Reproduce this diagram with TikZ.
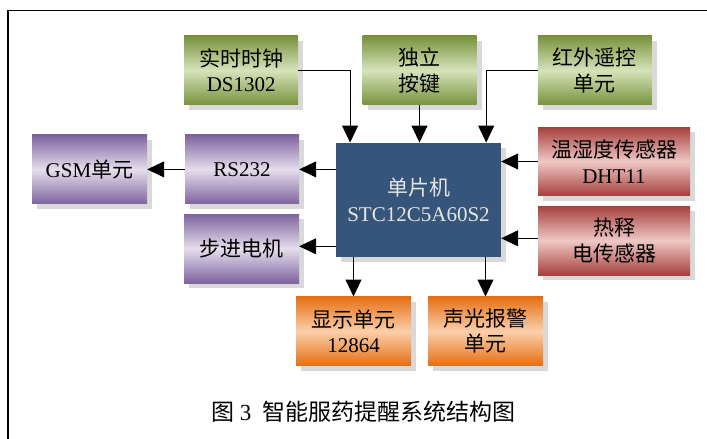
\documentclass[tikz,border=0pt]{standalone}
\usepackage{fontspec}
\setmainfont{Liberation Serif}
\newfontfamily\cjk{Noto Sans CJK SC}
\usetikzlibrary{arrows.meta,shadows,calc}
\definecolor{gdark}{HTML}{77923C}
\definecolor{glight}{HTML}{D6E3BA}
\definecolor{pdark}{HTML}{7E63A0}
\definecolor{plight}{HTML}{E5DEEC}
\definecolor{rdark}{HTML}{A6403D}
\definecolor{rlight}{HTML}{EFC8C6}
\definecolor{odark}{HTML}{E56F14}
\definecolor{olight}{HTML}{FBCFAA}
\definecolor{mcuc}{HTML}{36557A}
\definecolor{shadowc}{HTML}{D9D9D9}
\tikzset{
  blk/.style={minimum width=114pt, minimum height=69pt, inner sep=0pt, align=center,
    font=\fontsize{21}{25.5}\selectfont,
    general shadow={fill=shadowc, shadow xshift=5pt, shadow yshift=-5pt}},
  grn/.style={blk, top color=gdark, bottom color=gdark, middle color=glight},
  pur/.style={blk, top color=pdark, bottom color=pdark, middle color=plight},
  red/.style={blk, top color=rdark, bottom color=rdark, middle color=rlight},
  org/.style={blk, top color=odark, bottom color=odark, middle color=olight},
  arr/.style={line width=1pt, -{Triangle[length=17pt,width=16pt]}}
}
\begin{document}
\begin{tikzpicture}[x=1pt,y=-1pt]
\useasboundingbox (0,0) rectangle (707,439);
\draw[line width=1.3pt] (8,450) -- (8,10.7) -- (720,10.7);
\node[grn] (rtc) at (241.2,70.4) {{\cjk 实时时钟}\\DS1302};
\node[grn] (key) at (419.5,70.4) {{\cjk 独立}\\{\cjk 按键}};
\node[grn] (ir) at (594.9,70.4) {{\cjk 红外遥控}\\{\cjk 单元}};
\node[pur, minimum width=115pt] (gsm) at (89.5,169.4) {GSM{\cjk 单元}};
\node[pur] (rs) at (242,169.4) {RS232};
\node[pur, minimum width=115pt] (step) at (241.5,248.5) {{\cjk 步进电机}};
\node[blk, fill=mcuc, text=white!90!black, minimum width=165pt, minimum height=114.3pt] (mcu) at (418.5,199.9) {{\cjk 单片机}\\STC12C5A60S2};
\node[red, minimum width=152pt, minimum height=68.4pt] (dht) at (614,161.5) {{\cjk 温湿度传感器}\\DHT11};
\node[red, minimum width=152pt] (pir) at (614,240.5) {{\cjk 热释}\\{\cjk 电传感器}};
\node[org, minimum width=115pt] (disp) at (353.5,331.2) {{\cjk 显示单元}\\12864};
\node[org, minimum width=115pt] (alarm) at (485.5,331.2) {{\cjk 声光报警}\\{\cjk 单元}};
\node[font=\fontsize{23}{27}\selectfont] (cap) at (363.4,411.7) {{\cjk 图} 3\ \ {\cjk 智能服药提醒系统结构图}};
\coordinate (c1) at ($(mcu.north west)+(14.3,0)$);
\coordinate (c3) at ($(mcu.north east)+(-15,0)$);
\coordinate (s1) at ($(mcu.west)+(0,46.4)$);
\coordinate (p1) at ($(mcu.east)+(0,38.4)$);
\draw[arr] (rtc.east) -| (c1);
\draw[arr] (key.south) -- (key.south |- mcu.north);
\draw[arr] (ir.west) -| (c3);
\draw[arr] (mcu.west |- rs.east) -- (rs.east);
\draw[arr] (rs.west) -- (gsm.east);
\draw[arr] (s1) -- (s1 -| step.east);
\draw[arr] (dht.west) -- (dht.west -| mcu.east);
\draw[arr] (p1 -| pir.west) -- (p1);
\draw[arr] (mcu.south -| disp.north) -- (disp.north);
\draw[arr] (mcu.south -| alarm.north) -- (alarm.north);
\end{tikzpicture}
\end{document}
